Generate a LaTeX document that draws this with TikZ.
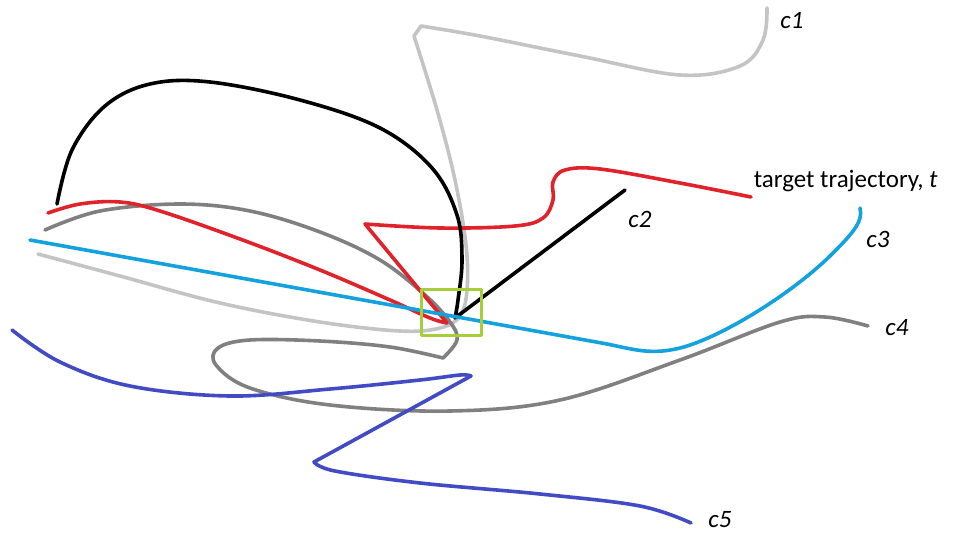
\documentclass[tikz,border=0pt]{standalone}
\usepackage{fontspec}
\setmainfont{Carlito}
\definecolor{lgray}{RGB}{196,196,196}
\definecolor{dgray}{RGB}{128,128,128}
\definecolor{tred}{RGB}{224,34,42}
\definecolor{sky}{RGB}{20,162,222}
\definecolor{dblue}{RGB}{66,74,196}
\definecolor{lime}{RGB}{166,206,57}

\begin{document}
\begin{tikzpicture}[x=1pt, y=-1pt, line width=3.6pt, line cap=round, line join=round,
	curve/.style = {smooth, tension=0.6},
	lab/.style = {inner sep=0pt, font=\fontsize{25}{30}\selectfont\itshape}]
	\useasboundingbox (0,0) rectangle (956,538);
	% c1
	\draw[lgray] plot[curve] coordinates {(38,254) (120,276) (220,303) (320,322) (400,331) (440,328) (460,316) (467,290) (466,245) (455,180) (437,110) (414,36)}
		-- plot[curve] coordinates {(421,26) (480,36) (580,56) (680,75) (740,66) (763,40) (767,8)};
	% c4
	\draw[dgray] plot[curve] coordinates {(45,230) (100,211) (180,204) (250,211) (320,232) (380,260) (425,295) (450,322) (457,340) (443,358)}
		-- plot[curve] coordinates {(443,358) (390,347) (320,341) (250,340) (218,348) (216,365) (250,388) (330,405) (450,411) (560,400) (680,360) (780,322) (825,317) (868,326)};
	% target
	\draw[tred] plot[curve] coordinates {(48,213) (80,204) (120,202) (160,211) (240,239) (320,270) (390,300) (430,318) (447,323)}
		-- (365,224)
		-- plot[curve] coordinates {(365,224) (440,228) (515,226) (543,218) (553,200) (553,182) (565,170) (600,169) (680,183) (751,197)};
	% c2
	\draw[black] plot[curve] coordinates {(57,204) (72,150) (105,106) (150,84) (210,82) (300,100) (380,128) (432,168) (457,215) (462,260) (458,300) (455,318)}
		-- (625,190);
	% c3
	\draw[sky] (30,240) -- (600,342.7)
		.. controls (630,348) and (648,356) .. (680,348)
		.. controls (720,338) and (790,295) .. (830,256)
		.. controls (850,236) and (864,222) .. (860,208);
	% c5
	\draw[dblue] plot[curve] coordinates {(12,330) (60,362) (130,386) (230,396) (330,389) (420,380) (460,375) (471,376)}
		-- (314,462)
		-- plot[curve] coordinates {(314,462) (335,471) (420,483) (540,494) (640,506) (691,523)};
	% intersection box
	\node[draw=lime, line width=3pt, minimum width=60pt, minimum height=46pt, inner sep=0pt] (box) at (451,312) {};
	% labels
	\node[lab] (c1) at (792,21) {c1};
	\node[lab] (c2) at (640,219) {c2};
	\node[lab] (c3) at (878,239) {c3};
	\node[lab] (c4) at (897,328) {c4};
	\node[lab] (c5) at (720,520) {c5};
	\node[inner sep=0pt, anchor=base west, font=\fontsize{25}{30}\selectfont] (t) at (752,187) {target trajectory, \textit{t}};
\end{tikzpicture}
\end{document}
